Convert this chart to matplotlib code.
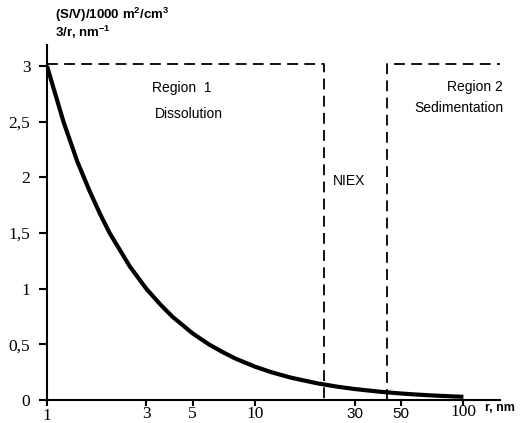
import matplotlib
matplotlib.use("Agg")
import matplotlib.pyplot as plt

plt.rcParams["mathtext.default"] = "regular"

# curve (3/r)
r_nm = [1, 1.2, 1.4, 1.6, 1.8, 2, 2.5, 3, 3.5, 4, 5, 6, 7, 8, 10, 12, 15,
        20, 25, 30, 40, 50, 60, 70, 80, 100]
sv = [3.0, 2.5, 2.14, 1.88, 1.67, 1.5, 1.2, 1.0, 0.86, 0.75, 0.6, 0.5, 0.43,
      0.375, 0.3, 0.25, 0.2, 0.15, 0.12, 0.1, 0.075, 0.06, 0.05, 0.043,
      0.0375, 0.03]

# region boundaries (dashed)
niex_lo, niex_hi = 21.5, 43.0
level = 3.02

xticks = [1, 3, 5, 10, 30, 50, 100]
xtick_fonts = ["Liberation Serif", "Liberation Serif", "Liberation Serif",
               "Liberation Serif", "Liberation Sans", "Liberation Sans",
               "Liberation Serif"]
xtick_drop = [6, 4.5, 4.5, 4.5, 5, 5, 3]
yticks = [0, 0.5, 1, 1.5, 2, 2.5, 3]
ytick_labels = ["0", "0,5", "1", "1,5", "2", "2,5", "3"]

fig = plt.figure(figsize=(5.22, 4.23), dpi=100)
ax = fig.add_axes([0.090, 0.054, 0.868, 0.840])
ax.set_xscale("log")
ax.set_xlim(1, 150)
ax.set_ylim(0, 3.19)

ax.plot(r_nm, sv, color="black", lw=3, solid_capstyle="butt", zorder=3)

dash = (0, (6, 3.5))
ax.plot([1, niex_lo, niex_lo], [level, level, 0], color="black", lw=1.3,
        linestyle=dash, clip_on=False)
ax.plot([niex_hi, niex_hi, 150], [0, level, level], color="black", lw=1.3,
        linestyle=dash, clip_on=False)

for s in ["top", "right"]:
    ax.spines[s].set_visible(False)
for s in ["left", "bottom"]:
    ax.spines[s].set_linewidth(1.5)

ax.set_yticks(yticks)
ax.set_yticklabels(ytick_labels, fontfamily="Liberation Serif", fontsize=12.5)
ax.tick_params(axis="y", length=6, width=1.5, pad=6)
ax.set_xticks(xticks)
ax.set_xticklabels([""] * len(xticks))
ax.xaxis.set_minor_locator(matplotlib.ticker.NullLocator())
ax.tick_params(axis="x", length=4, width=1.5)

for v, f, d in zip(xticks, xtick_fonts, xtick_drop):
    fs = 12.5 if "Serif" in f else 11
    ax.annotate(str(v), xy=(v, 0), xycoords=("data", "axes fraction"),
                xytext=(0, -d), textcoords="offset points", ha="center",
                va="top", fontfamily=f, fontsize=fs, annotation_clip=False)

ax.annotate("r, nm", xy=(1, 0), xycoords="axes fraction", xytext=(-11, -6),
            textcoords="offset points", ha="left", va="center",
            fontfamily="Liberation Sans", fontweight="bold", fontsize=9)

fig.text(55 / 522, 1 - 15 / 423, "(S/V)/1000 m$^2$/cm$^3$", ha="left",
         va="center", fontfamily="Liberation Sans", fontweight="bold",
         fontsize=9.5)
fig.text(55 / 522, 1 - 32 / 423, "3/r, nm$^{-1}$", ha="left", va="center",
         fontfamily="Liberation Sans", fontweight="bold", fontsize=9.5)

txt = dict(fontfamily="Liberation Sans", fontsize=10, va="center")
ax.text(3.19, 2.80, "Region  1", ha="left", **txt)
ax.text(3.3, 2.57, "Dissolution", ha="left", **txt)
ax.text(23.5, 1.97, "NIEX", ha="left", **txt)
ax.text(155, 2.81, "Region 2", ha="right", clip_on=False, **txt)
ax.text(155, 2.62, "Sedimentation", ha="right", clip_on=False, **txt)

fig.savefig("out.png", dpi=100)
